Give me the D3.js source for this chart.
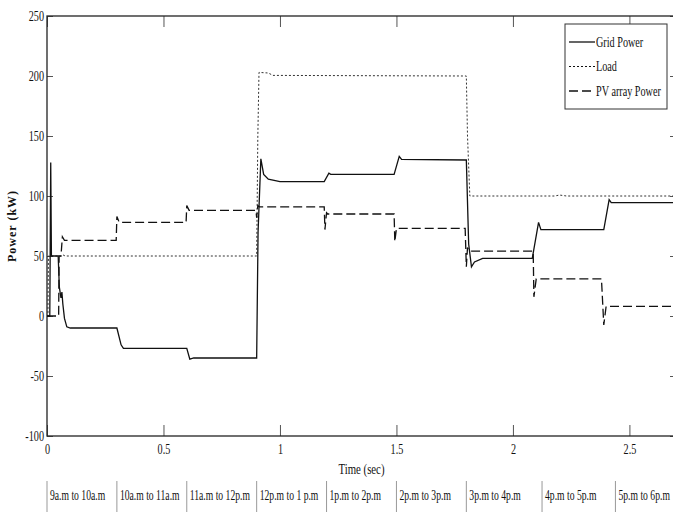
<!DOCTYPE html>
<html lang="en">
<head>
<meta charset="UTF-8">
<title>Power</title>
<style>
  body { margin: 0; background: #fff; }
  text { font-family: "Liberation Serif", "Times New Roman", serif; fill: #111; }
</style>
</head>
<body>
<script src="https://cdn.jsdelivr.net/npm/d3@7"></script>
<script>
// time (s), power (kW)
var gridPower = [[0,0],[0.012,0],[0.016,128],[0.019,50],[0.048,50],[0.053,24],[0.06,15],[0.064,20],[0.068,10],[0.075,-2],[0.085,-9],[0.1,-10],
  [0.3,-10],[0.318,-24],[0.328,-27],[0.6,-27],[0.613,-36],[0.63,-35],[0.9,-35],[0.906,70],[0.918,131],[0.93,118],[0.95,114],[1.0,112],
  [1.19,112],[1.21,119],[1.218,118],[1.49,118],[1.512,133],[1.522,130.5],[1.8,130],[1.81,60],[1.822,41],[1.835,45],[1.87,48],
  [2.083,48],[2.11,78],[2.12,72],[2.39,72],[2.413,97],[2.422,94.5],[2.7,94.5]];
var loadPower = [[0,0],[0.004,0],[0.006,50],[0.06,50],[0.068,51],[0.078,50],[0.9,50],[0.905,150],[0.91,203],[0.95,202.5],[0.97,200.5],
  [1.8,200],[1.805,150],[1.815,100],[2.18,100],[2.2,100.8],[2.23,100],[2.7,100]];
var pvPower = [[0,0],[0.05,0],[0.052,50],[0.06,50],[0.066,66],[0.075,63],[0.297,63],[0.3,83],[0.31,78],[0.597,78],[0.6,92],[0.61,88],
  [0.897,88],[0.9,82],[0.905,92],[0.912,91],[1.19,91],[1.193,72],[1.2,86],[1.205,85],[1.49,85],[1.493,62],[1.5,73],[1.795,73],
  [1.8,41],[1.805,57],[1.812,54],[2.087,54],[2.09,16],[2.1,31],[2.38,31],[2.39,-7.5],[2.4,8],[2.7,8]];

var xTicks = [0, 0.5, 1, 1.5, 2, 2.5];
var yTicks = [-100, -50, 0, 50, 100, 150, 200, 250];
var legendNames = ["Grid Power", "Load", "PV array Power"];
var periodLabels = ["9a.m to 10a.m","10a.m to 11a.m","11a.m to 12p.m","12p.m to 1 p.m","1p.m to 2p.m","2p.m to 3p.m","3p.m to 4p.m","4p.m to 5p.m","5p.m to 6p.m"];
var periodStart = [0, 0.3, 0.6, 0.9, 1.2, 1.5, 1.8, 2.125, 2.44];

(function draw() {
  var width = 673, height = 530;
  var mLeft = 47, mTop = 16, mRight = 676, mBottom = 436;

  var svg = d3.select('body').append('svg').attr('width', width).attr('height', height);
  svg.append('rect').attr('width', width).attr('height', height).attr('fill', '#fff');

  var x = d3.scaleLinear().domain([0, 2.7]).range([mLeft, mRight]);
  var y = d3.scaleLinear().domain([-100, 250]).range([mBottom, mTop]);

  // squeeze serif text horizontally like the original (scaled about its own x anchor)
  function squish(sel, k) {
    sel.each(function() {
      var ax = +(this.getAttribute('x') || 0);
      d3.select(this).attr('transform', 'translate(' + ax + ',0) scale(' + k + ',1) translate(' + (-ax) + ',0)');
    });
  }

  // axes
  var gx = svg.append('g').attr('transform', 'translate(0,' + mBottom + ')')
    .call(d3.axisBottom(x).tickValues(xTicks).tickSizeInner(-11).tickSizeOuter(0).tickPadding(7).tickFormat(String));
  var gy = svg.append('g').attr('transform', 'translate(' + mLeft + ',0)')
    .call(d3.axisLeft(y).tickValues(yTicks).tickSizeInner(-6).tickSizeOuter(0).tickPadding(3).tickFormat(String));
  var gt = svg.append('g').attr('transform', 'translate(0,' + mTop + ')')
    .call(d3.axisTop(x).tickValues(xTicks).tickSizeInner(-11).tickSizeOuter(0).tickFormat(''));
  var gr = svg.append('g').attr('transform', 'translate(' + mRight + ',0)')
    .call(d3.axisRight(y).tickValues(yTicks).tickSizeInner(-6).tickSizeOuter(0).tickFormat(''));

  [gx, gy, gt, gr].forEach(function(g) {
    g.select('.domain').remove();
    g.selectAll('line').attr('stroke', '#555').attr('stroke-width', 1);
    g.selectAll('text').attr('font-size', 15).attr('fill', '#111').attr('font-family', '"Liberation Serif", serif');
  });
  squish(gx.selectAll('text'), 0.68);
  squish(gy.selectAll('text'), 0.68);

  svg.append('rect').attr('x', mLeft).attr('y', mTop).attr('width', mRight - mLeft).attr('height', mBottom - mTop)
    .attr('fill', 'none').attr('stroke', '#222').attr('stroke-width', 1.3);

  // lines
  var line = d3.line().x(function(d){ return x(d[0]); }).y(function(d){ return y(d[1]); });
  svg.append('path').datum(loadPower).attr('d', line).attr('fill', 'none')
    .attr('stroke', '#333').attr('stroke-width', 1).attr('stroke-dasharray', '2,2');
  svg.append('path').datum(pvPower).attr('d', line).attr('fill', 'none')
    .attr('stroke', '#111').attr('stroke-width', 1.3).attr('stroke-dasharray', '9,4');
  svg.append('path').datum(gridPower).attr('d', line).attr('fill', 'none')
    .attr('stroke', '#111').attr('stroke-width', 1.3);

  // legend
  var lg = svg.append('g');
  lg.append('rect').attr('x', 565).attr('y', 24).attr('width', 102).attr('height', 85)
    .attr('fill', '#fff').attr('stroke', '#333').attr('stroke-width', 1);
  var dashes = [null, '2,2', '9,4'];
  legendNames.forEach(function(name, i) {
    var ly = 42 + i * 24.5;
    lg.append('line').attr('x1', 569).attr('x2', 595).attr('y1', ly).attr('y2', ly)
      .attr('stroke', '#111').attr('stroke-width', i === 1 ? 1 : 1.3).attr('stroke-dasharray', dashes[i]);
    var t = lg.append('text').attr('x', 596).attr('y', ly + 5).attr('font-size', 15).text(name);
    squish(t, 0.68);
  });

  // axis titles
  var xl = svg.append('text').attr('x', (mLeft + mRight) / 2).attr('y', 474).attr('text-anchor', 'middle')
    .attr('font-size', 15).text('Time (sec)');
  squish(xl, 0.72);
  svg.append('text').attr('transform', 'translate(16,' + ((mTop + mBottom) / 2) + ') rotate(-90)')
    .attr('text-anchor', 'middle').attr('font-size', 12).attr('font-weight', 'bold')
    .attr('letter-spacing', 1).text('Power (kW)');

  // period row under the chart
  var pr = svg.append('g');
  periodStart.forEach(function(s, i) {
    pr.append('line').attr('x1', x(s)).attr('x2', x(s)).attr('y1', 481).attr('y2', 512)
      .attr('stroke', '#999').attr('stroke-width', 1);
    var t = pr.append('text').attr('x', x(s) + 3).attr('y', 500).attr('font-size', 14).text(periodLabels[i]);
    squish(t, 0.69);
  });
})();
</script>
</body>
</html>
